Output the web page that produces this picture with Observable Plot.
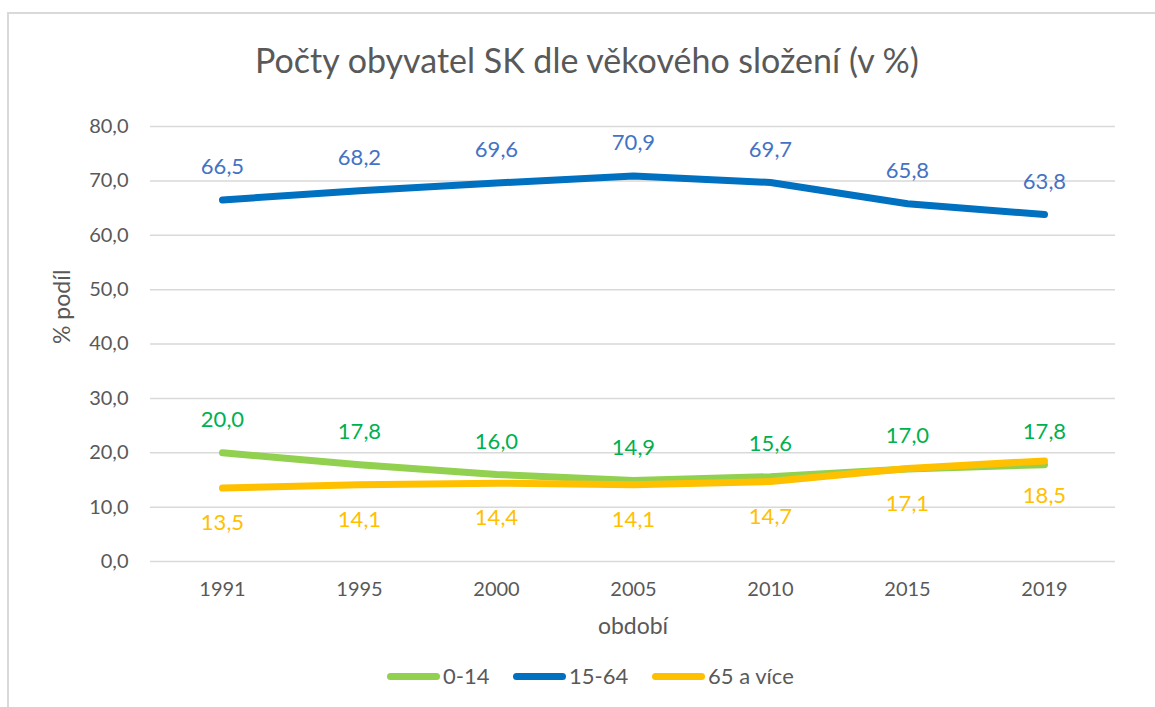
<!DOCTYPE html>
<html>
<head>
<meta charset="utf-8">
<script src="https://cdn.jsdelivr.net/npm/d3@7"></script>
<script src="https://cdn.jsdelivr.net/npm/@observablehq/plot@0.6"></script>
<style>
  html, body { margin: 0; padding: 0; background: #fff; }
  #wrap { position: relative; width: 1155px; height: 707px; overflow: hidden; font-family: Lato, "Open Sans", sans-serif; }
  #border { position: absolute; left: 7px; top: 12px; width: 1300px; height: 900px; border: 2px solid #d9d9d9; box-sizing: border-box; }
  #title { position: absolute; left: 587px; top: 40px; transform: translateX(-50%); white-space: nowrap; font-size: 34px; color: #595959; line-height: 1.2; }
  #chart { position: absolute; left: 0; top: 0; }
  #legend { position: absolute; left: 0; top: 663px; width: 1155px; height: 26px; font-size: 22px; color: #595959; line-height: 26px; }
  .item { position: absolute; top: 0; display: flex; align-items: center; white-space: nowrap; }
  .sw { width: 53px; height: 7px; border-radius: 4px; margin-right: 3px; }
</style>
</head>
<body>
<div id="wrap">
  <div id="border"></div>
  <div id="chart"></div>
  <div id="title">Počty obyvatel SK dle věkového složení (v %)</div>
  <div id="legend"></div>
</div>
<script>
// ---- data ----
const years = ["1991", "1995", "2000", "2005", "2010", "2015", "2019"];
const age0_14 = [20.0, 17.8, 16.0, 14.9, 15.6, 17.0, 17.8];
const age15_64 = [66.5, 68.2, 69.6, 70.9, 69.7, 65.8, 63.8];
const age65 = [13.5, 14.1, 14.4, 14.1, 14.7, 17.1, 18.5];
const seriesNames = ["0-14", "15-64", "65 a více"];
const yTicks = [0, 10, 20, 30, 40, 50, 60, 70, 80];

const lineColors = ["#92D050", "#0070C0", "#FFC000"];
const labelColors = ["#00B050", "#4472C4", "#FFC000"];

const toRows = (vals, s) => years.map((y, i) => ({year: y, value: vals[i], series: s}));
const rows0 = toRows(age0_14, seriesNames[0]);
const rows1 = toRows(age15_64, seriesNames[1]);
const rows2 = toRows(age65, seriesNames[2]);

const fmt = d => d.toFixed(1).replace(".", ",");
const FS = 20;
const LFS = 22;
const AFS = 23;

const lineOpts = {x: "year", y: "value", strokeWidth: 7, strokeLinecap: "round", strokeLinejoin: "round"};

const chart = Plot.plot({
  width: 1155,
  height: 707,
  marginTop: 126,
  marginBottom: 146,
  marginLeft: 150,
  marginRight: 40,
  style: {fontFamily: "Lato, 'Open Sans', sans-serif", fontSize: FS + "px", background: "transparent"},
  x: {type: "point", domain: years, padding: 0.5},
  y: {domain: [0, 80]},
  marks: [
    Plot.gridY(yTicks, {stroke: "#d9d9d9", strokeOpacity: 1, strokeWidth: 1.5}),
    Plot.axisY(yTicks, {tickSize: 0, tickPadding: 22, tickFormat: fmt, fill: "#595959", fontSize: FS, label: null}),
    Plot.axisX({tickSize: 0, tickPadding: 20, fill: "#595959", fontSize: FS, label: null}),
    Plot.text(["% podíl"], {frameAnchor: "left", dx: -88, rotate: -90, fill: "#595959", fontSize: AFS}),
    Plot.text(["období"], {frameAnchor: "bottom", dy: 72, fill: "#595959", fontSize: AFS}),
    Plot.line(rows0, {...lineOpts, stroke: lineColors[0]}),
    Plot.line(rows1, {...lineOpts, stroke: lineColors[1]}),
    Plot.line(rows2, {...lineOpts, stroke: lineColors[2]}),
    Plot.text(rows0, {x: "year", y: "value", text: d => fmt(d.value), dy: -33, fill: labelColors[0], fontSize: LFS}),
    Plot.text(rows1, {x: "year", y: "value", text: d => fmt(d.value), dy: -33, fill: labelColors[1], fontSize: LFS}),
    Plot.text(rows2, {x: "year", y: "value", text: d => fmt(d.value), dy: 35, fill: labelColors[2], fontSize: LFS})
  ]
});
document.getElementById("chart").appendChild(chart);

const legendLefts = [387, 513, 652];
const legend = document.getElementById("legend");
seriesNames.forEach((name, i) => {
  const item = document.createElement("div");
  item.className = "item";
  item.style.left = legendLefts[i] + "px";
  const sw = document.createElement("div");
  sw.className = "sw";
  sw.style.background = lineColors[i];
  const t = document.createElement("span");
  t.textContent = name;
  item.appendChild(sw);
  item.appendChild(t);
  legend.appendChild(item);
});
</script>
</body>
</html>
